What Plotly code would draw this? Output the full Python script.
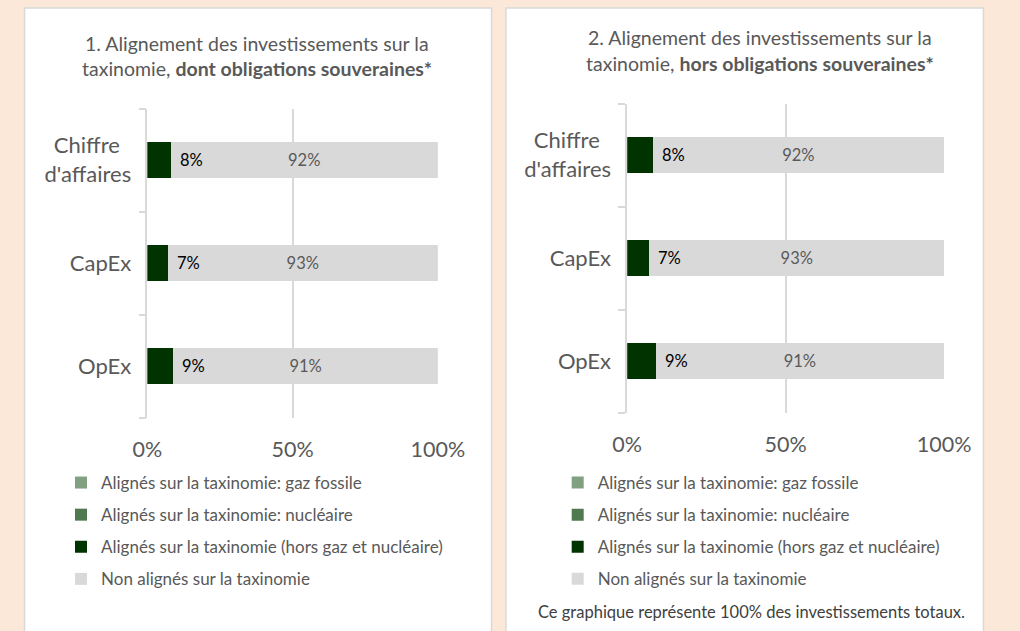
import plotly.graph_objects as go

W, H = 1020, 631
FONT = "Lato"
GREY_TXT = "#595959"
GRID = "#D9D9D9"

# ---------------- data ----------------
categories = ["Chiffre d'affaires", "CapEx", "OpEx"]
category_labels = ["Chiffre\u00a0\u00a0<br>d'affaires", "CapEx", "OpEx"]
series_names = [
    "Alignés sur la taxinomie: gaz fossile",
    "Alignés sur la taxinomie: nucléaire",
    "Alignés sur la taxinomie (hors gaz et nucléaire)",
    "Non alignés sur la taxinomie",
]
series_colors = ["#819F81", "#4F7A50", "#003300", "#D9D9D9"]

# Chart 1 : dont obligations souveraines
c1_gaz = [0.0, 0.0, 0.0]
c1_nucleaire = [0.0, 0.0, 0.0]
c1_alignes = [0.08, 0.07, 0.09]
c1_non_alignes = [0.92, 0.93, 0.91]

# Chart 2 : hors obligations souveraines
c2_gaz = [0.0, 0.0, 0.0]
c2_nucleaire = [0.0, 0.0, 0.0]
c2_alignes = [0.08, 0.07, 0.09]
c2_non_alignes = [0.92, 0.93, 0.91]

x_tick_vals = [0, 0.5, 1]
x_tick_text = ["0%", "50%", "100%"]

title1_l1 = "1. Alignement des investissements sur la"
title1_l2 = "taxinomie, <b>dont obligations souveraines*</b>"
title2_l1 = "2. Alignement des investissements sur la"
title2_l2 = "taxinomie, <b>hors obligations souveraines*</b>"
footnote = "Ce graphique représente 100% des investissements totaux."


def px(x):
    return x / W


def py(y):
    return 1 - y / H


fig = go.Figure()

charts = [
    ([c1_gaz, c1_nucleaire, c1_alignes, c1_non_alignes], "x", "y", "legend"),
    ([c2_gaz, c2_nucleaire, c2_alignes, c2_non_alignes], "x2", "y2", "legend2"),
]

for series, xa, ya, lg in charts:
    for i, (name, col, vals) in enumerate(zip(series_names, series_colors, series)):
        is_grey = i == 3
        fig.add_trace(go.Bar(
            orientation="h", x=vals, y=categories, name=name,
            marker=dict(color=col, line=dict(width=0)),
            xaxis=xa, yaxis=ya, legend=lg, legendgroup=f"{lg}_{i}",
            texttemplate="%{x:.0%}" if is_grey else None,
            textposition="inside" if is_grey else "none",
            insidetextanchor="middle", textangle=0,
            textfont=dict(family=FONT, size=16.5, color=GREY_TXT),
            hoverinfo="skip",
        ))
    # labels for the aligned (dark) segment
    for cat, v in zip(categories, series[2]):
        fig.add_annotation(
            x=v, y=cat, xref=xa, yref=ya, text=f"{v:.0%}", showarrow=False,
            xanchor="left", yanchor="middle", xshift=7,
            font=dict(family=FONT, size=16.5, color="#000000"),
        )

axis_common_x = dict(
    range=[0, 1], tickmode="array", tickvals=x_tick_vals, ticktext=x_tick_text,
    showgrid=True, gridcolor=GRID, gridwidth=1.5, zeroline=False, showline=False,
    ticks="", tickfont=dict(family=FONT, size=21.5, color=GREY_TXT),
    ticklabelstandoff=17, fixedrange=True,
)
axis_common_y = dict(
    type="category", categoryarray=categories, autorange="reversed",
    tickmode="array", tickvals=categories, ticktext=category_labels,
    showline=True, linecolor=GRID, linewidth=1.5, showgrid=False, zeroline=False,
    ticks="outside", ticklen=7, tickcolor=GRID, tickwidth=1.5, tickson="boundaries",
    tickfont=dict(family=FONT, size=22, color=GREY_TXT), ticklabelstandoff=10,
    fixedrange=True,
)

legend_common = dict(
    xanchor="left", yanchor="top", bgcolor="rgba(0,0,0,0)",
    font=dict(family=FONT, size=17, color=GREY_TXT),
    traceorder="grouped", tracegroupgap=7, orientation="v",
)

fig.update_layout(
    width=W, height=H, margin=dict(l=0, r=0, t=0, b=0),
    paper_bgcolor="#FBE8D8", plot_bgcolor="rgba(0,0,0,0)",
    barmode="stack", bargap=0.66,
    xaxis=dict(domain=[px(138), px(441)], anchor="y", **axis_common_x),
    yaxis=dict(domain=[py(417.5), py(108.5)], anchor="x", **axis_common_y),
    xaxis2=dict(domain=[px(638.5), px(969)], anchor="y2", **axis_common_x),
    yaxis2=dict(domain=[py(412.5), py(103.5)], anchor="x2", **axis_common_y),
    legend=dict(x=px(48), y=py(465), **legend_common),
    legend2=dict(x=px(566), y=py(465), **legend_common),
    showlegend=True,
)

# panels
for x0, x1 in [(10, 497), (512, 1010)]:
    fig.add_shape(type="rect", xref="paper", yref="paper",
                  x0=px(x0), x1=px(x1), y0=py(8), y1=py(645),
                  fillcolor="#FFFFFF", line=dict(color=GRID, width=1.5), layer="below")

title_font = dict(family=FONT, size=19.5, color=GREY_TXT)
for txt, x, y in [(title1_l1, 252.5, 43), (title1_l2, 252.5, 68),
                  (title2_l1, 777, 38), (title2_l2, 777, 63)]:
    fig.add_annotation(text=txt, x=px(x), y=py(y), xref="paper", yref="paper",
                       showarrow=False, xanchor="center", yanchor="middle", font=title_font)

fig.add_annotation(text=footnote, x=px(993), y=py(612), xref="paper", yref="paper",
                   showarrow=False, xanchor="right", yanchor="middle",
                   font=dict(family=FONT, size=16.5, color="#404040"))

fig.write_html("out.html", config={"displayModeBar": False},
               post_script="document.body.style.margin='0';")
